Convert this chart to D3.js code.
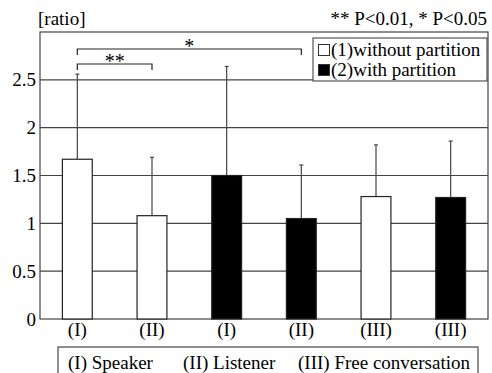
<!DOCTYPE html>
<html>
<head>
<meta charset="utf-8">
<script src="https://cdn.jsdelivr.net/npm/d3@7"></script>
<style>
  body { margin: 0; background: #fff; }
</style>
</head>
<body>
<figure id="ratio-chart" style="margin:0"></figure>
<script>
// data
const conditions = ["(I)", "(II)", "(I)", "(II)", "(III)", "(III)"];
const groups = ["without", "without", "with", "with", "without", "with"];
const means = [1.67, 1.08, 1.50, 1.05, 1.28, 1.27];
const errors = [0.89, 0.61, 1.14, 0.56, 0.54, 0.59];
const yTicks = [0, 0.5, 1, 1.5, 2, 2.5];
const legendLabels = ["(1)without partition", "(2)with partition"];
const keyLabels = ["(I) Speaker", "(II) Listener", "(III) Free conversation"];
const brackets = [
  { from: 0, to: 1, label: "**", level: 70, top: 64 },
  { from: 0, to: 3, label: "*", level: 55, top: 49 }
];

const W = 492, H = 373;
const margin = { top: 32, right: 4, bottom: 54, left: 40 };
const width = W - margin.left - margin.right;
const height = H - margin.top - margin.bottom;
const lineColor = "#444";
const fontSize = 19;
const serif = "Liberation Serif";

const svg = d3.select("figure#ratio-chart")
  .append("svg")
  .attr("width", W)
  .attr("height", H)
  .attr("font-family", serif);

const g = svg.append("g")
  .attr("transform", "translate(" + margin.left + "," + margin.top + ")");

// scales
const x = d3.scaleBand()
  .range([0, width])
  .domain(d3.range(conditions.length))
  .paddingInner(0.6)
  .paddingOuter(0.3);

const y = d3.scaleLinear()
  .domain([0, 3])
  .range([height, 0]);

// grid lines
g.selectAll(".grid")
  .data(yTicks.filter(d => d > 0))
  .enter()
  .append("line")
  .attr("x1", 0)
  .attr("x2", width)
  .attr("y1", d => y(d))
  .attr("y2", d => y(d))
  .attr("stroke", lineColor)
  .attr("stroke-width", 1.2);

// frame
g.append("rect")
  .attr("width", width)
  .attr("height", height)
  .attr("fill", "none")
  .attr("stroke", lineColor)
  .attr("stroke-width", 1.2);

// y axis
const yAxis = g.append("g")
  .call(d3.axisLeft(y).tickValues(yTicks).tickSize(0).tickPadding(4).tickFormat(d3.format("")));
yAxis.select(".domain").remove();
yAxis.attr("font-size", fontSize);

// x axis
const xAxis = g.append("g")
  .attr("transform", "translate(0," + height + ")")
  .call(d3.axisBottom(x).tickSize(0).tickPadding(3).tickFormat(i => conditions[i]));
xAxis.select(".domain").remove();
xAxis.attr("font-size", fontSize);

// error bars
const cx = i => x(i) + x.bandwidth() / 2;
g.selectAll(".err")
  .data(means)
  .enter()
  .append("line")
  .attr("x1", (d, i) => cx(i))
  .attr("x2", (d, i) => cx(i))
  .attr("y1", d => y(d))
  .attr("y2", (d, i) => y(d + errors[i]))
  .attr("stroke", lineColor)
  .attr("stroke-width", 1.2);

g.selectAll(".cap")
  .data(means)
  .enter()
  .append("line")
  .attr("x1", (d, i) => cx(i) - 2)
  .attr("x2", (d, i) => cx(i) + 2)
  .attr("y1", (d, i) => y(d + errors[i]))
  .attr("y2", (d, i) => y(d + errors[i]))
  .attr("stroke", lineColor)
  .attr("stroke-width", 1.2);

// bars
g.selectAll(".bar")
  .data(means)
  .enter()
  .append("rect")
  .attr("x", (d, i) => x(i))
  .attr("y", d => y(d))
  .attr("width", x.bandwidth())
  .attr("height", d => height - y(d))
  .attr("fill", (d, i) => groups[i] === "with" ? "#000" : "#fff")
  .attr("stroke", "#222")
  .attr("stroke-width", 1.2);

// significance brackets
brackets.forEach(b => {
  const x1 = cx(b.from), x2 = cx(b.to);
  svg.append("path")
    .attr("d", "M" + (margin.left + x1) + "," + b.level + "V" + b.top + "H" + (margin.left + x2) + "V" + b.level)
    .attr("fill", "none")
    .attr("stroke", "#222")
    .attr("stroke-width", 1.2);
  svg.append("text")
    .attr("x", margin.left + (x1 + x2) / 2)
    .attr("y", b.top + 4)
    .attr("text-anchor", "middle")
    .attr("font-size", 20)
    .text(b.label);
});

// titles
svg.append("text")
  .attr("x", 38)
  .attr("y", 25)
  .attr("font-size", fontSize)
  .text("[ratio]");

svg.append("text")
  .attr("x", 487)
  .attr("y", 25)
  .attr("text-anchor", "end")
  .attr("font-size", fontSize)
  .text("** P<0.01, * P<0.05");

// legend
const legend = svg.append("g").attr("transform", "translate(313,38)");
legend.append("rect")
  .attr("width", 174)
  .attr("height", 43)
  .attr("fill", "#fff")
  .attr("stroke", "#555")
  .attr("stroke-width", 1.2);
legendLabels.forEach((label, i) => {
  legend.append("rect")
    .attr("x", 5.5)
    .attr("y", 6.5 + i * 20)
    .attr("width", 11)
    .attr("height", 11)
    .attr("fill", i === 0 ? "#fff" : "#000")
    .attr("stroke", "#333");
  legend.append("text")
    .attr("x", 18)
    .attr("y", 18 + i * 20)
    .attr("font-size", fontSize)
    .text(label);
});

// condition key box
const key = svg.append("g").attr("transform", "translate(58,347)");
key.append("rect")
  .attr("width", 420)
  .attr("height", 40)
  .attr("fill", "#fff")
  .attr("stroke", "#444")
  .attr("stroke-width", 1.2);
const keyX = [10, 125, 240];
keyLabels.forEach((label, i) => {
  key.append("text")
    .attr("x", keyX[i])
    .attr("y", 22)
    .attr("font-size", fontSize)
    .text(label);
});

// force the serif face on every label
svg.selectAll("text")
  .attr("font-family", serif)
  .attr("fill", "#000");
</script>
</body>
</html>
